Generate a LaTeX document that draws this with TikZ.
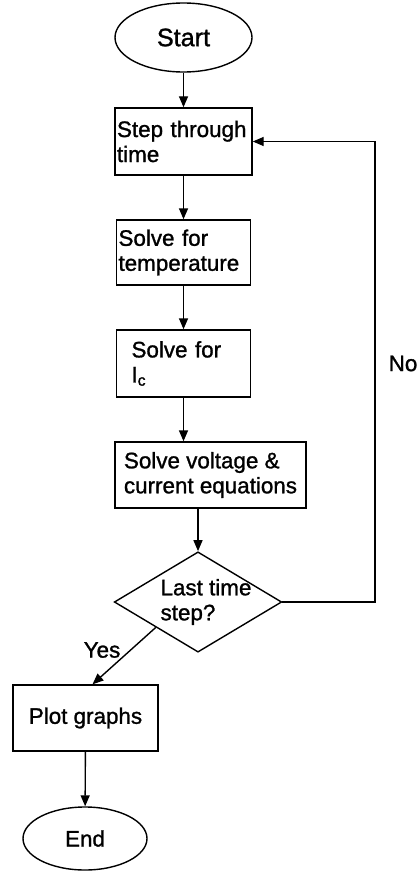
\documentclass[tikz,border=0pt]{standalone}
\usepackage{fontspec}
\setmainfont{Liberation Sans}[RawFeature={embolden=1.2}]
\usetikzlibrary{shapes.geometric,arrows.meta}

\begin{document}
\begin{tikzpicture}[x=0.5pt,y=-0.5pt,line width=0.7pt,
  >={Triangle[length=5.5pt,width=4.5pt]},
  font=\fontsize{11.2}{12.5}\selectfont,
  procbox/.style={draw,rectangle,align=left},
  termnode/.style={draw,ellipse,inner sep=0pt}]
  \useasboundingbox (0,0) rectangle (419,872);

  \node[termnode,minimum width=68.5pt,minimum height=34.5pt,font=\fontsize{12.6}{14}\selectfont] (start) at (183.5,37.5) {Start};
  \node[procbox,text width=66.5pt,inner xsep=1pt,minimum height=33.5pt] (step) at (183.5,141.5) {Step through\\time};
  \node[procbox,text width=65pt,inner xsep=1pt,minimum height=32.5pt] (temp) at (183.5,252.5) {Solve for\\temperature};
  \node[procbox,text width=52pt,inner xsep=7.5pt,minimum height=33.5pt] (ic) at (183.5,363.5) {Solve for\\I\textsubscript{c}};
  \node[procbox,minimum width=95.5pt,minimum height=33pt] (volt) at (210.5,475) {Solve voltage \&\\current equations};
  \node[draw,diamond,align=left,inner sep=0pt,aspect=1.67,minimum width=83.5pt,minimum height=50pt] (last) at (198,602) {\hspace*{4pt}Last time\hspace*{-4pt}\\\hspace*{4pt}step?\hspace*{-4pt}};
  \node[procbox,minimum width=72.5pt,minimum height=33pt] (plot) at (85.5,718) {Plot graphs};
  \node[termnode,minimum width=62pt,minimum height=31.5pt] (end) at (85,838.5) {End};

  \node[anchor=west,inner sep=0pt] (no) at (388,363.5) {No};
  \node[inner sep=0pt] (yes) at (102,650) {Yes};

  \draw[->] (start) -- (step);
  \draw[->] (step) -- (temp);
  \draw[->] (temp) -- (ic);
  \draw[->] (ic.south) -- (ic.south |- volt.north);
  \draw[->] (volt.south -| last.north) -- (last.north);
  \coordinate (loop) at (375,141.5);
  \draw[->] (last.east) -| (loop) -- (step.east);
  \draw[->] (last.south west) -- ([xshift=3.5pt]plot.north);
  \draw[->] (plot) -- (end);
\end{tikzpicture}
\end{document}
